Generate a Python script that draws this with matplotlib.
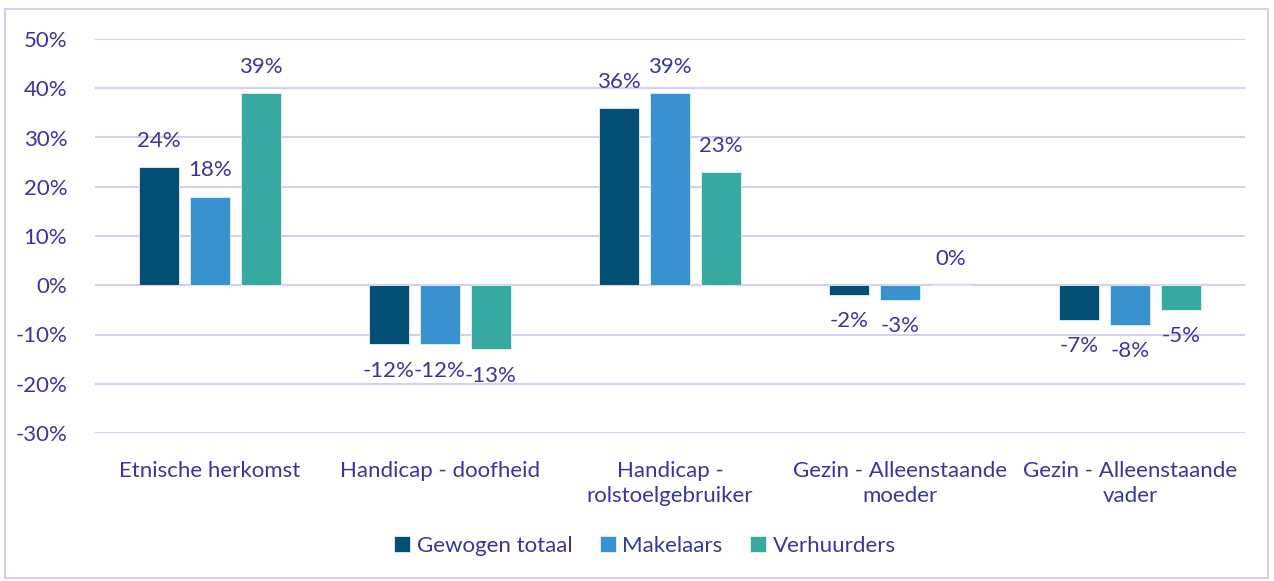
import matplotlib.pyplot as plt
import numpy as np
from matplotlib.patches import Rectangle

categories = ["Etnische herkomst", "Handicap - doofheid", "Handicap -\nrolstoelgebruiker",
              "Gezin - Alleenstaande\nmoeder", "Gezin - Alleenstaande\nvader"]
series = ["Gewogen totaal", "Makelaars", "Verhuurders"]
gewogen = [24, -12, 36, -2, -7]
makelaars = [18, -12, 39, -3, -8]
verhuurders = [39, -13, 23, 0, -5]
yticks = [-30, -20, -10, 0, 10, 20, 30, 40, 50]

colors = ["#034F73", "#3792CF", "#36AAA0"]
txt = "#3A3698"
grid = "#D4CFEE"
fs = 16

plt.rcParams['font.family'] = ['Lato', 'DejaVu Sans']

fig = plt.figure(figsize=(12.74, 5.81), dpi=100)
ax = fig.add_axes([95/1274, 1-433/581, 1150/1274, 394/581])

# outer chart border
fig.patches.append(Rectangle((5/1274, 3/581), 1263/1274, 569/581, transform=fig.transFigure,
                             fill=False, edgecolor=grid, linewidth=1.5))

x = np.arange(len(categories))
w = 0.174
off = 0.222
for i, (vals, name) in enumerate(zip([gewogen, makelaars, verhuurders], series)):
    pos = x + (i - 1) * off
    ax.bar(pos, vals, w, color=colors[i], edgecolor="#E8F0F5", linewidth=0.6,
           label=name, zorder=3)
    for p, v in zip(pos, vals):
        dy = 19 if v >= 0 else -19
        ax.annotate(f"{v}%", (p, v), xytext=(0, dy), textcoords="offset points",
                    ha="center", va="center", fontsize=fs, color=txt)

ax.set_xlim(-0.5, len(categories) - 0.5)
ax.set_ylim(-30, 50)
ax.set_yticks(yticks)
ax.set_yticklabels([f"{t}%" for t in yticks])
ax.set_xticks(x)
ax.set_xticklabels(categories)
ax.grid(axis="y", color=grid, linewidth=1.5, zorder=0)
ax.set_axisbelow(True)
for s in ax.spines.values():
    s.set_visible(False)
ax.tick_params(axis="y", length=0, pad=20, labelsize=fs, labelcolor=txt)
ax.tick_params(axis="x", length=0, pad=20, labelsize=fs, labelcolor=txt)
for lab in ax.get_xticklabels():
    lab.set_linespacing(1.35)

ax.legend(loc="center", bbox_to_anchor=(645/1274, 1-546/581), bbox_transform=fig.transFigure,
          ncol=3, frameon=False, fontsize=fs, labelcolor=txt, handlelength=0.7,
          handleheight=0.7, handletextpad=0.3, columnspacing=1.25)

fig.savefig("out.png", dpi=100)
